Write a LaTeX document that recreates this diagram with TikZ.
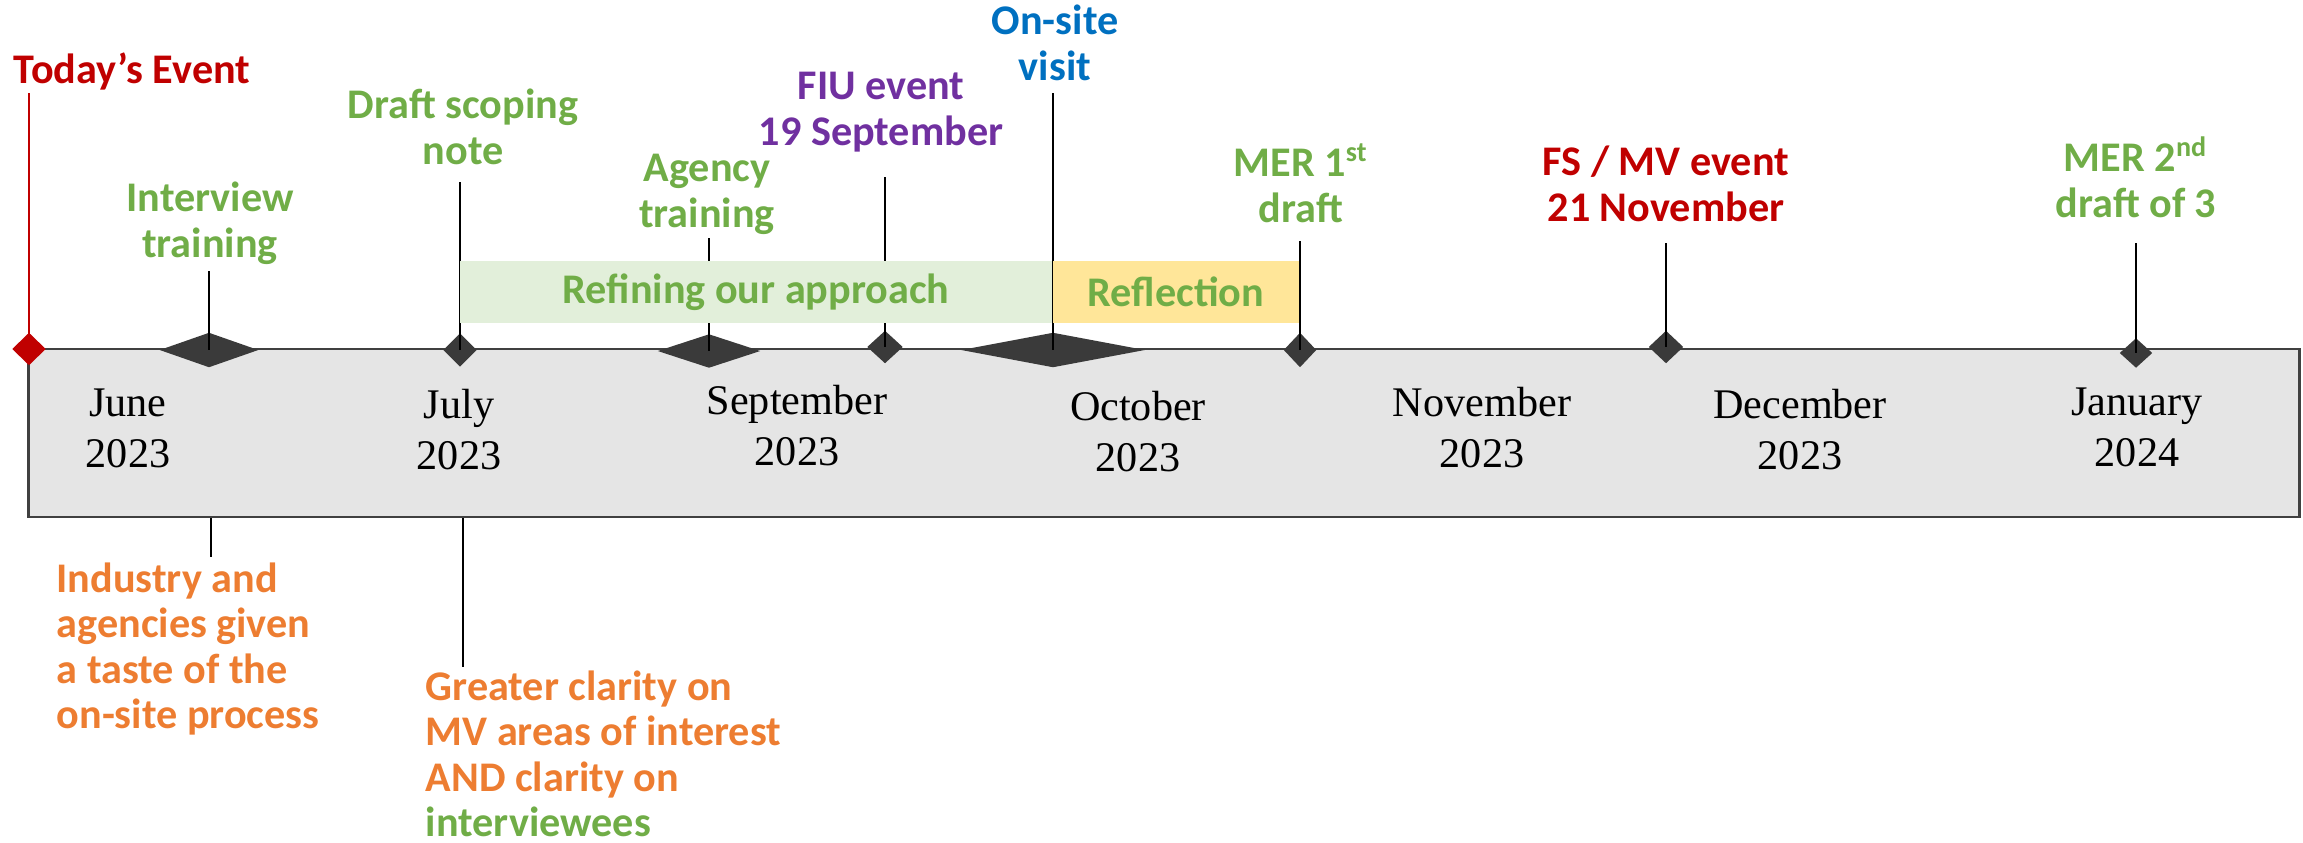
\documentclass[tikz,border=0pt]{standalone}
\usepackage{fontspec}
\setmainfont{Liberation Serif}
\newfontfamily\labfont{Carlito}
\usetikzlibrary{shapes.geometric}
\definecolor{evgreen}{RGB}{112,173,71}
\definecolor{evorange}{RGB}{237,125,49}
\definecolor{evred}{RGB}{192,0,0}
\definecolor{evpurple}{RGB}{112,48,160}
\definecolor{evblue}{RGB}{0,112,192}
\definecolor{knob}{RGB}{58,58,58}
\definecolor{edge}{RGB}{64,64,64}
\definecolor{boxfill}{RGB}{229,229,229}
\definecolor{refine}{RGB}{226,239,218}
\definecolor{reflect}{RGB}{255,230,153}

\begin{document}
\begin{tikzpicture}[x=0.01cm,y=-0.01cm,
  lb/.style={font=\labfont\bfseries\fontsize{12}{12.8}\selectfont,align=center,anchor=base,inner sep=0pt},
  mo/.style={font=\fontsize{12}{14.5}\selectfont,align=center,anchor=base,inner sep=0pt},
  dm/.style={diamond,fill=knob,inner sep=0pt},
  tk/.style={line width=0.6pt},
  bd/.style={inner sep=0pt,font=\labfont\bfseries\fontsize{12}{12.8}\selectfont,text=evgreen}]
  \useasboundingbox (0,0) rectangle (2303,842);
  \node[draw=edge,fill=boxfill,line width=0.75pt,inner sep=0pt,minimum width=22.70cm,minimum height=1.68cm] (axis) at (1164,433) {};
  % months (anchored on the year line)
  \node[mo] (m1) at (128,467) {June\\2023};
  \node[mo] (m2) at (459,469) {July\\2023};
  \node[mo] (m3) at (797,465) {September\\2023};
  \node[mo] (m4) at (1138,471) {October\\2023};
  \node[mo] (m5) at (1482,467) {November\\2023};
  \node[mo] (m6) at (1800,469) {December\\2023};
  \node[mo] (m7) at (2137,466) {January\\2024};
  % milestones on the line
  \node[dm,fill=evred,minimum width=0.34cm,minimum height=0.33cm] (d0) at (29,349) {};
  \coordinate (k0) at (29,93);
  \draw[tk,evred] (k0) -- (d0.center);
  \foreach \n/\x/\y/\w/\h/\t in {1/209/350/0.99cm/0.35cm/271,2/460/350/0.34cm/0.34cm/182,
      3/709/351/1.03cm/0.34cm/238,4/885/347/0.36cm/0.33cm/177,5/1053/350/1.84cm/0.35cm/93,
      6/1300/350/0.33cm/0.35cm/241,7/1666/347/0.35cm/0.33cm/243,8/2136/353/0.33cm/0.30cm/243}{
    \node[dm,minimum width=\w,minimum height=\h] (d\n) at (\x,\y) {};
    \coordinate (k\n) at (\x,\t);
    \draw[tk] (k\n) -- (d\n.center);
  }
  \coordinate (b1) at (211,557);
  \coordinate (b2) at (463,667);
  \draw[tk] (axis.south -| b1) -- (b1);
  \draw[tk] (axis.south -| b2) -- (b2);
  % phases
  \node[bd,fill=refine,minimum width=5.92cm,minimum height=0.62cm] (refine) at (756,292) {Refining our approach};
  \node[bd,fill=reflect,minimum width=2.46cm,minimum height=0.61cm] (reflect) at (1176,292) {Reflection};
  % labels (anchored on the last line)
  \node[lb,text=evred] (today) at (132,83) {Today’s Event};
  \node[lb,text=evgreen] (intv) at (210,257) {Interview\\training};
  \node[lb,text=evgreen] (draft) at (463,164) {Draft scoping\\note};
  \node[lb,text=evgreen] (agency) at (707,227) {Agency\\training};
  \node[lb,text=evpurple] (fiu) at (881,145) {FIU event\\19 September};
  \node[lb,text=evblue] (onsite) at (1055,80) {On-site\\visit};
  \node[lb,text=evgreen] (mer1) at (1301,222) {MER 1\textsuperscript{st}\\draft};
  \node[lb,text=evred] (fsmv) at (1666,221) {FS / MV event\\21 November};
  \node[lb,text=evgreen] (mer2) at (2136,217) {MER 2\textsuperscript{nd}\\draft of 3};
  \node[lb,align=left,anchor=base west,text=evorange] (taste) at (56,728) {Industry and\\agencies given\\a taste of the\\on-site process};
  \node[lb,align=left,anchor=base west,text=evorange] (clarity) at (425,836) {Greater clarity on\\MV areas of interest\\AND clarity on\\\textcolor{evgreen}{interviewees}};
\end{tikzpicture}
\end{document}
